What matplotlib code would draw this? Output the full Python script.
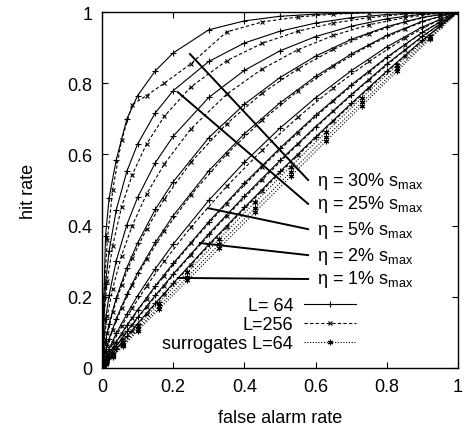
import matplotlib
matplotlib.use('Agg')
import matplotlib.pyplot as plt
from matplotlib.ticker import FixedLocator, FormatStrFormatter

plt.rcParams['font.family'] = ['Liberation Sans', 'DejaVu Sans']
plt.rcParams['mathtext.fontset'] = 'custom'
plt.rcParams['mathtext.rm'] = 'Liberation Sans'

# ROC curves: false alarm rate vs hit rate, one curve per eta level
eta_levels = [30, 25, 20, 15, 10, 5, 3, 2, 1]

fa_64 = [0, 0.01, 0.02, 0.04, 0.07, 0.1, 0.15, 0.2, 0.3, 0.4, 0.5, 0.6, 0.7, 0.8, 0.9, 1]
hit_64_30 = [0, 0.372, 0.478, 0.585, 0.70, 0.765, 0.835, 0.885, 0.95, 0.975, 0.988, 0.994, 0.997, 0.999, 1.0, 1]
hit_64_25 = [0, 0.237, 0.329, 0.444, 0.553, 0.629, 0.717, 0.779, 0.861, 0.913, 0.946, 0.969, 0.984, 0.993, 0.998, 1]
hit_64_20 = [0, 0.137, 0.205, 0.301, 0.403, 0.479, 0.577, 0.651, 0.760, 0.836, 0.891, 0.931, 0.960, 0.981, 0.994, 1]
hit_64_15 = [0, 0.077, 0.124, 0.197, 0.282, 0.351, 0.446, 0.523, 0.647, 0.741, 0.816, 0.876, 0.923, 0.959, 0.985, 1]
hit_64_10 = [0, 0.048, 0.082, 0.138, 0.207, 0.267, 0.353, 0.428, 0.554, 0.658, 0.745, 0.819, 0.882, 0.934, 0.974, 1]
hit_64_5 = [0, 0.030, 0.054, 0.097, 0.152, 0.203, 0.279, 0.348, 0.471, 0.578, 0.674, 0.759, 0.835, 0.902, 0.958, 1]
hit_64_3 = [0, 0.021, 0.040, 0.073, 0.120, 0.163, 0.231, 0.294, 0.411, 0.519, 0.618, 0.710, 0.795, 0.873, 0.943, 1]
hit_64_2 = [0, 0.017, 0.033, 0.062, 0.103, 0.142, 0.204, 0.264, 0.377, 0.483, 0.583, 0.678, 0.768, 0.854, 0.932, 1]
hit_64_1 = [0, 0.014, 0.027, 0.053, 0.089, 0.125, 0.182, 0.238, 0.347, 0.451, 0.552, 0.649, 0.743, 0.834, 0.921, 1]

fa_256 = [0, 0.005, 0.015, 0.03, 0.055, 0.085, 0.125, 0.175, 0.25, 0.35, 0.45, 0.55, 0.65, 0.75, 0.85, 0.95, 1]
hit_256_30 = [0, 0.20, 0.36, 0.50, 0.64, 0.74, 0.765, 0.80, 0.855, 0.944, 0.972, 0.986, 0.994, 0.998, 0.999, 1.0, 1]
hit_256_25 = [0, 0.137, 0.245, 0.344, 0.453, 0.543, 0.629, 0.707, 0.790, 0.863, 0.912, 0.946, 0.969, 0.984, 0.994, 0.999, 1]
hit_256_20 = [0, 0.073, 0.147, 0.223, 0.316, 0.400, 0.488, 0.573, 0.672, 0.769, 0.840, 0.894, 0.934, 0.964, 0.984, 0.997, 1]
hit_256_15 = [0, 0.044, 0.097, 0.156, 0.233, 0.308, 0.390, 0.474, 0.578, 0.686, 0.772, 0.840, 0.895, 0.939, 0.972, 0.994, 1]
hit_256_10 = [0, 0.026, 0.063, 0.107, 0.169, 0.232, 0.305, 0.384, 0.486, 0.601, 0.696, 0.778, 0.847, 0.906, 0.953, 0.989, 1]
hit_256_5 = [0, 0.015, 0.039, 0.071, 0.117, 0.168, 0.230, 0.300, 0.396, 0.510, 0.612, 0.704, 0.787, 0.861, 0.926, 0.980, 1]
hit_256_3 = [0, 0.011, 0.030, 0.056, 0.096, 0.140, 0.195, 0.259, 0.350, 0.462, 0.565, 0.661, 0.750, 0.832, 0.908, 0.974, 1]
hit_256_2 = [0, 0.009, 0.024, 0.046, 0.081, 0.121, 0.171, 0.231, 0.318, 0.427, 0.529, 0.628, 0.721, 0.809, 0.892, 0.967, 1]
hit_256_1 = [0, 0.007, 0.020, 0.039, 0.070, 0.105, 0.151, 0.208, 0.290, 0.396, 0.498, 0.597, 0.693, 0.786, 0.876, 0.961, 1]

fa_sur = [0, 0.01, 0.03, 0.06, 0.1, 0.16, 0.24, 0.33, 0.43, 0.53, 0.63, 0.73, 0.83, 0.92, 1]
hit_sur_a = [0, 0.013, 0.037, 0.072, 0.117, 0.183, 0.269, 0.363, 0.466, 0.566, 0.663, 0.759, 0.852, 0.933, 1]
hit_sur_b = [0, 0.011, 0.034, 0.066, 0.109, 0.173, 0.256, 0.348, 0.450, 0.550, 0.649, 0.746, 0.842, 0.927, 1]
hit_sur_c = [0, 0.011, 0.031, 0.062, 0.104, 0.165, 0.246, 0.337, 0.438, 0.538, 0.638, 0.737, 0.835, 0.923, 1]

hits_64 = [hit_64_30, hit_64_25, hit_64_20, hit_64_15, hit_64_10, hit_64_5, hit_64_3, hit_64_2, hit_64_1]
hits_256 = [hit_256_30, hit_256_25, hit_256_20, hit_256_15, hit_256_10, hit_256_5, hit_256_3, hit_256_2, hit_256_1]
hits_sur = [hit_sur_a, hit_sur_b, hit_sur_c]

# labelled curves: (eta, point on curve, label anchor)
labelled = [(30, (0.247, 0.882), (0.579, 0.528)),
            (25, (0.213, 0.775), (0.579, 0.461)),
            (5, (0.298, 0.449), (0.579, 0.390)),
            (2, (0.275, 0.351), (0.579, 0.317)),
            (1, (0.213, 0.253), (0.579, 0.250))]

fs = 13

fig = plt.figure(figsize=(4.66, 4.31), dpi=100)
ax = fig.add_axes([102 / 466, 62 / 431, 356 / 466, 356 / 431])

lw = 0.8
for i, h in enumerate(hits_64):
    ax.plot(fa_64, h, color='black', lw=lw, marker='+', ms=4.5, mew=0.8,
            label='L= 64' if i == 0 else None)
for i, h in enumerate(hits_256):
    ax.plot(fa_256, h, color='black', lw=lw, ls=(0, (3, 2)), marker='x', ms=3.5, mew=0.8,
            label='L=256' if i == 0 else None)
for i, h in enumerate(hits_sur):
    ax.plot(fa_sur, h, color='black', lw=lw, ls=(0, (1, 1.5)), marker=(6, 2, 0), ms=4, mew=0.8,
            label='surrogates L=64' if i == 0 else None)

for eta, p, q in labelled:
    ax.plot([p[0], q[0]], [p[1], q[1]], color='black', lw=1.4)
    ax.text(q[0] + 0.025, q[1], 'η = %d%% s$_{\\mathregular{max}}$' % eta,
            fontsize=fs, va='center', ha='left')

ax.set_xlim(0, 1)
ax.set_ylim(0, 1)
ticks = [0, 0.2, 0.4, 0.6, 0.8, 1]
ax.xaxis.set_major_locator(FixedLocator(ticks))
ax.yaxis.set_major_locator(FixedLocator(ticks))
ax.xaxis.set_major_formatter(FormatStrFormatter('%g'))
ax.yaxis.set_major_formatter(FormatStrFormatter('%g'))
ax.tick_params(direction='in', top=True, right=True, length=4, width=0.8,
               labelsize=fs, pad=7)
for s in ax.spines.values():
    s.set_linewidth(1.0)

ax.set_xlabel('false alarm rate', fontsize=fs, labelpad=10)
ax.set_ylabel('hit rate', fontsize=fs, labelpad=22)

ax.legend(loc='lower right', bbox_to_anchor=(0.74, 0.02), frameon=False,
          markerfirst=False, alignment='right', fontsize=fs, handlelength=2.9,
          handletextpad=0.6, labelspacing=0.1, borderpad=0, numpoints=1)

fig.savefig('out.png', dpi=100)
